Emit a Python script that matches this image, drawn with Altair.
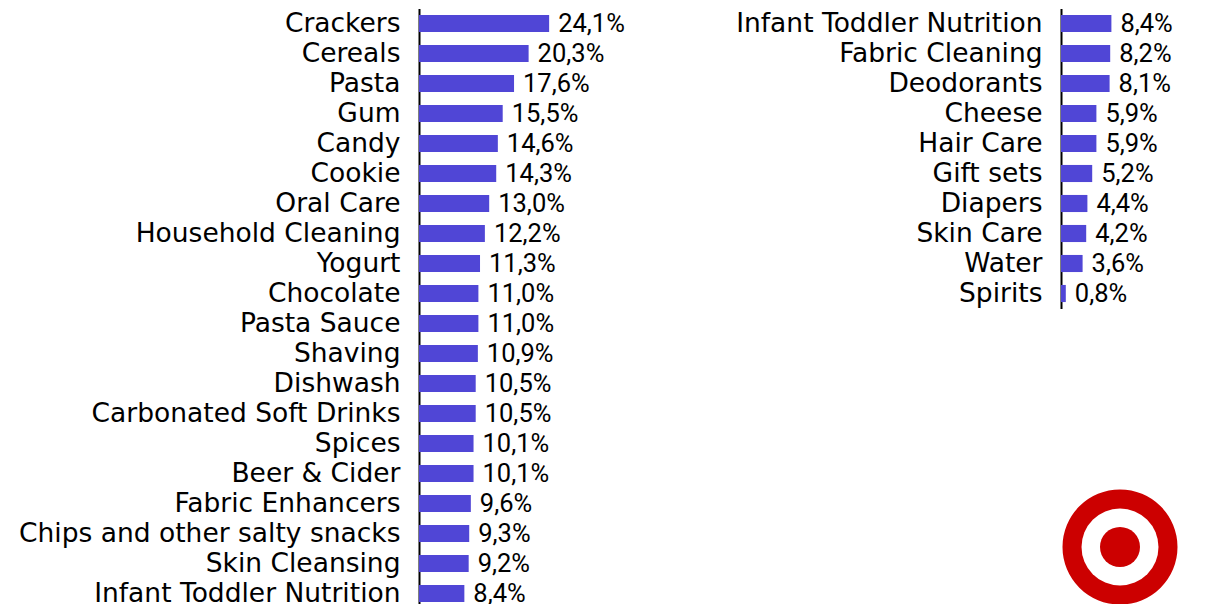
import altair as alt
import pandas as pd

left_cats = ["Crackers", "Cereals", "Pasta", "Gum", "Candy", "Cookie", "Oral Care",
             "Household Cleaning", "Yogurt", "Chocolate", "Pasta Sauce", "Shaving",
             "Dishwash", "Carbonated Soft Drinks", "Spices", "Beer & Cider",
             "Fabric Enhancers", "Chips and other salty snacks", "Skin Cleansing",
             "Infant Toddler Nutrition"]
left_vals = [24.1, 20.3, 17.6, 15.5, 14.6, 14.3, 13.0, 12.2, 11.3, 11.0, 11.0, 10.9,
             10.5, 10.5, 10.1, 10.1, 9.6, 9.3, 9.2, 8.4]

right_cats = ["Infant Toddler Nutrition", "Fabric Cleaning", "Deodorants", "Cheese",
              "Hair Care", "Gift sets", "Diapers", "Skin Care", "Water", "Spirits"]
right_vals = [8.4, 8.2, 8.1, 5.9, 5.9, 5.2, 4.4, 4.2, 3.6, 0.8]

LABEL_FONT = "DejaVu Sans"
LABEL_FS = 26.5
VALUE_FONT = "Roboto"
VALUE_FS = 25.5
BAR = "#5046d6"


def make_df(cats, vals):
    return pd.DataFrame({
        "cat": cats,
        "val": vals,
        "label": [f"{v:.1f}".replace(".", ",") + "%" for v in vals],
    })


def panel(df, xmax, width, height):
    y = alt.Y("cat:N", sort=None, title=None,
              scale=alt.Scale(paddingInner=0.43, paddingOuter=0.215),
              axis=alt.Axis(domain=True, domainColor="#000000", domainWidth=2,
                            ticks=False, labelPadding=19, labelFont=LABEL_FONT,
                            labelFontSize=LABEL_FS, labelColor="#000000",
                            labelLimit=0, grid=False))
    x = alt.X("val:Q", title=None, axis=None, scale=alt.Scale(domain=[0, xmax]))
    bars = alt.Chart(df).mark_bar(color=BAR).encode(x=x, y=y)
    text = alt.Chart(df).mark_text(align="left", baseline="middle", dx=9,
                                   font=VALUE_FONT, fontSize=VALUE_FS,
                                   color="#000000").encode(
        x=x, y=y, text="label:N")
    return alt.layer(bars, text).properties(width=width, height=height)


left = panel(make_df(left_cats, left_vals), 35, 189, 600)
right = panel(make_df(right_cats, right_vals), 20, 120, 300)

logo_df = pd.DataFrame({"k": [0]})
base = alt.Chart(logo_df)
ring_outer = base.mark_circle(size=13225, color="#cc0000", opacity=1).encode(
    x=alt.value(59), y=alt.value(58.5))
ring_white = base.mark_circle(size=5929, color="#ffffff", opacity=1).encode(
    x=alt.value(59), y=alt.value(58.5))
ring_inner = base.mark_circle(size=1600, color="#cc0000", opacity=1).encode(
    x=alt.value(59), y=alt.value(58.5))
logo = alt.layer(ring_outer, ring_white, ring_inner).properties(width=120, height=120)

right_col = alt.vconcat(right, logo, spacing=180)

chart = alt.hconcat(left, right_col, spacing=110).properties(
    padding={"left": 18, "top": 8.5, "right": 0, "bottom": 0},
    background="#ffffff",
).configure_view(stroke=None)

chart.save("out.html", embed_options={"renderer": "svg", "actions": False})
